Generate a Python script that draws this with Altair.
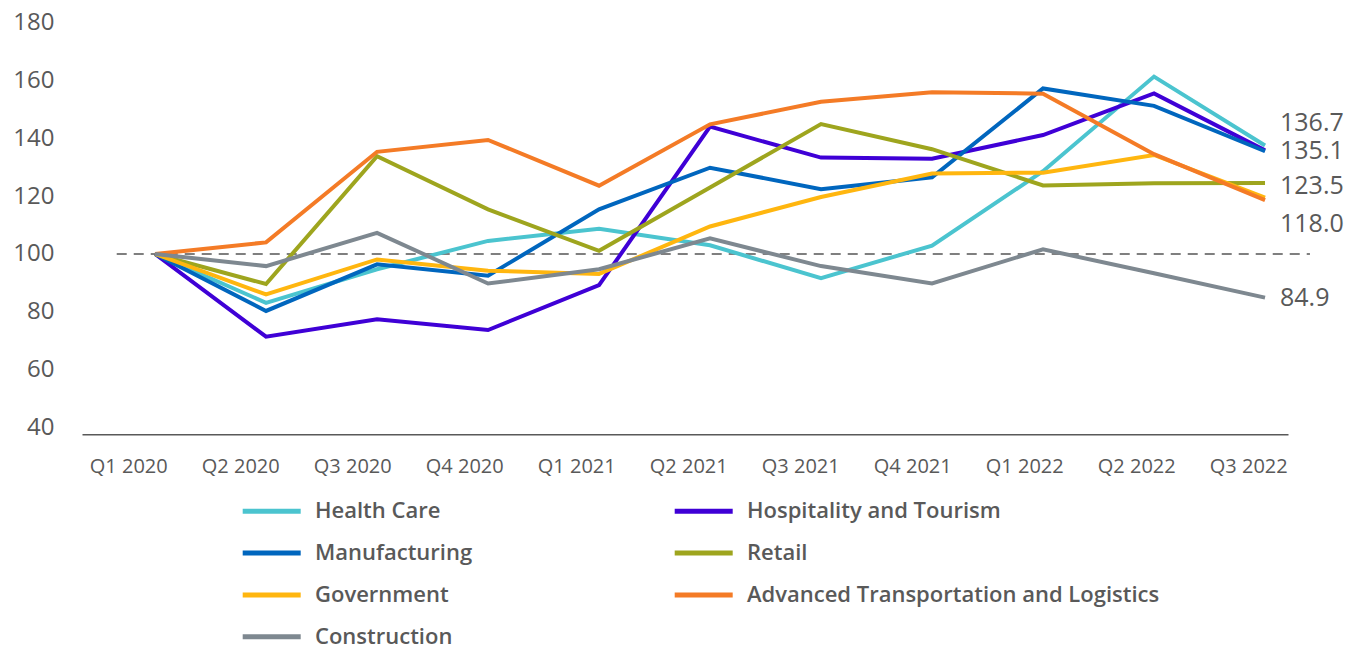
import altair as alt
import pandas as pd

quarters = ["Q1 2020", "Q2 2020", "Q3 2020", "Q4 2020", "Q1 2021", "Q2 2021",
            "Q3 2021", "Q4 2021", "Q1 2022", "Q2 2022", "Q3 2022"]

series_names = ["Health Care", "Hospitality and Tourism", "Manufacturing", "Retail",
                "Government", "Advanced Transportation and Logistics", "Construction"]
series_colors = ["#4BC4CF", "#3F00D6", "#0066BE", "#9EA51E", "#FFB60F", "#F47B26", "#7E8890"]

health_care = [100, 83.1, 94.7, 104.5, 108.7, 103.0, 91.6, 102.9, 128.6, 161.3, 137.5]
hospitality = [100, 71.4, 77.4, 73.7, 89.2, 144.0, 133.3, 132.9, 141.1, 155.5, 135.8]
manufacturing = [100, 80.3, 96.4, 92.5, 115.4, 129.8, 122.4, 126.5, 157.2, 151.2, 135.5]
retail = [100, 89.6, 133.8, 115.4, 101.1, 123.0, 144.9, 136.2, 123.7, 124.4, 124.5]
government = [100, 86.0, 98.1, 94.2, 93.1, 109.5, 119.7, 127.8, 128.1, 134.2, 119.5]
transport = [100, 104.0, 135.3, 139.4, 123.6, 144.8, 152.6, 155.9, 155.4, 134.5, 118.6]
construction = [100, 95.8, 107.3, 89.8, 94.7, 105.4, 95.8, 89.8, 101.6, 93.3, 84.9]

end_labels = ["136.7", "135.1", "123.5", "118.0", "84.9"]
end_label_y = [145.2, 135.5, 123.6, 110.4, 84.9]

baseline_value = 100
y_ticks = [40, 60, 80, 100, 120, 140, 160, 180]

all_series = [health_care, hospitality, manufacturing, retail, government, transport, construction]
rows = []
for name, vals in zip(series_names, all_series):
    for i, v in enumerate(vals):
        rows.append({"series": name, "i": i, "value": v})
df = pd.DataFrame(rows)

last_i = len(quarters) - 1
df_lab = pd.DataFrame({"i": [last_i] * len(end_labels), "y": end_label_y, "text": end_labels})
df_rule = pd.DataFrame({"x0": [-0.103], "x1": [10.551], "yv": [baseline_value]})

FONT = "Open Sans"
TXT = "#595959"

y_scale = alt.Scale(domain=[37.66, 180], nice=False, zero=False)
x_line_scale = alt.Scale(domain=[-0.658, 10.207], nice=False, zero=False)
x_lab_scale = alt.Scale(domain=[-0.413, 10.355], nice=False, zero=False)

label_expr = "[" + ",".join("'%s'" % q for q in quarters) + "][datum.value]"

y_axis = alt.Axis(values=y_ticks, title=None, domain=False, ticks=False, grid=False,
                  labelFont=FONT, labelFontSize=24, labelColor=TXT, labelPadding=28)

rule = alt.Chart(df_rule).mark_rule(color="#7F7F7F", strokeWidth=2, strokeDash=[10, 7]).encode(
    x=alt.X("x0:Q", scale=x_lab_scale,
            axis=alt.Axis(orient="bottom", values=list(range(len(quarters))), labelExpr=label_expr,
                          title=None, ticks=False, grid=False, domain=True,
                          domainColor="#595959", domainWidth=1.5, labelFont=FONT,
                          labelFontSize=20, labelColor=TXT, labelPadding=22, labelFlush=False,
                          labelOverlap=False)),
    x2="x1:Q",
    y=alt.Y("yv:Q", scale=y_scale, axis=y_axis),
)

lines = alt.Chart(df).mark_line(strokeWidth=4).encode(
    x=alt.X("i:Q", scale=x_line_scale, axis=None),
    y=alt.Y("value:Q", scale=y_scale, axis=y_axis),
    color=alt.Color("series:N", sort=series_names,
                    scale=alt.Scale(domain=series_names, range=series_colors),
                    legend=alt.Legend(title=None, orient="none", direction="horizontal",
                                      legendX=158.2, legendY=473.8,
                                      columns=2, symbolType="stroke", symbolSize=3364,
                                      symbolStrokeWidth=5, clipHeight=30, rowPadding=11.8,
                                      columnPadding=200, labelOffset=11.8, labelFont=FONT,
                                      labelFontSize=22, labelFontWeight=600, labelColor=TXT,
                                      labelLimit=600, padding=0)),
)

labels = alt.Chart(df_lab).mark_text(align="left", baseline="middle", dx=15, font=FONT,
                                      fontSize=25, color=TXT).encode(
    x=alt.X("i:Q", scale=x_line_scale, axis=None),
    y=alt.Y("y:Q", scale=y_scale, axis=y_axis),
    text="text:N",
)

chart = alt.layer(rule, lines, labels).resolve_scale(x="independent").properties(
    width=1206,
    height=411.8,
    autosize=alt.AutoSizeParams(type="none"),
    padding={"left": 74, "top": 14.5, "right": 67, "bottom": 214.7},
).configure_view(stroke=None)

chart.save("out.html", embed_options={"renderer": "svg", "actions": False})
